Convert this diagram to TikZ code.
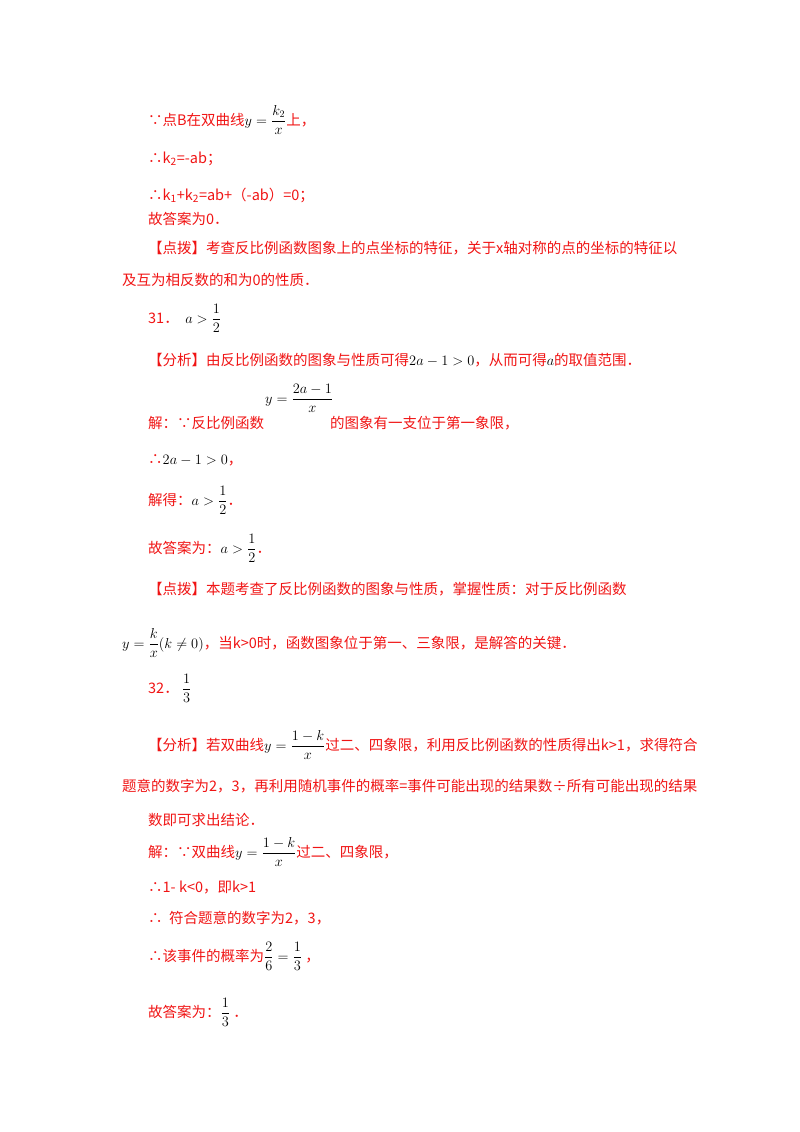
\documentclass[tikz,border=0pt]{standalone}
\usepackage{amsmath}
\usepackage{fontspec}
\setmainfont{Noto Sans CJK SC}
\definecolor{tred}{RGB}{240,20,20}
\newcommand{\mb}[1]{{\color{black}$#1$}}
\begin{document}
\begin{tikzpicture}[x=1pt,y=-1pt,
  t/.style={anchor=base west,inner sep=0pt,text=tred,font=\fontsize{14.5}{17}\selectfont}]
\useasboundingbox (0,0) rectangle (800,1132);
\node[t] (l1) at (148,125) {∵点B在双曲线\mb{y=\dfrac{k_2}{x}}上，};
\node[t] (l2) at (148,163) {∴k\textsubscript{2}=-ab；};
\node[t] (l3) at (148,200) {∴k\textsubscript{1}+k\textsubscript{2}=ab+（-ab）=0；};
\node[t] (l4) at (148,224) {故答案为0．};
\node[t] (l5) at (148,253) {【点拨】考查反比例函数图象上的点坐标的特征，关于x轴对称的点的坐标的特征以};
\node[t] (l6) at (122,285) {及互为相反数的和为0的性质．};
\node[t] (l7) at (148,323) {31．\ \ \mb{a>\dfrac{1}{2}}};
\node[t] (l8) at (148,365) {【分析】由反比例函数的图象与性质可得\mb{2a-1>0}，从而可得\mb{a}的取值范围．};
\node[t,text=black] (l9m) at (265,403) {$y=\dfrac{2a-1}{x}$};
\node[t] (l9a) at (148,428) {解：∵反比例函数};
\node[t] (l9b) at (330,428) {的图象有一支位于第一象限，};
\node[t] (l10) at (148,464) {∴\mb{2a-1>0}，};
\node[t] (l11) at (148,505) {解得：\mb{a>\dfrac{1}{2}}．};
\node[t] (l12) at (148,553) {故答案为：\mb{a>\dfrac{1}{2}}．};
\node[t] (l13) at (148,594) {【点拨】本题考查了反比例函数的图象与性质，掌握性质：对于反比例函数};
\node[t] (l14) at (122,648) {\mb{y=\dfrac{k}{x}(k\neq0)}，当\textit{k}>0时，函数图象位于第一、三象限，是解答的关键．};
\node[t] (l15) at (148,693) {32．\ \mb{\dfrac{1}{3}}};
\node[t] (l16) at (148,750) {【分析】若双曲线\mb{y=\dfrac{1-k}{x}}过二、四象限，利用反比例函数的性质得出\textit{k}>1，求得符合};
\node[t] (l17) at (122,791) {题意的数字为2，3，再利用随机事件的概率=事件可能出现的结果数÷所有可能出现的结果};
\node[t] (l18) at (148,825) {数即可求出结论．};
\node[t] (l19) at (148,857) {解：∵双曲线\mb{y=\dfrac{1-k}{x}}过二、四象限，};
\node[t] (l20) at (148,892) {∴1- \textit{k}<0，即\textit{k}>1};
\node[t] (l21) at (148,923) {∴\ \ 符合题意的数字为2，3，};
\node[t] (l22) at (148,961) {∴该事件的概率为\mb{\dfrac{2}{6}=\dfrac{1}{3}}\ ，};
\node[t] (l23) at (148,1017) {故答案为：\mb{\dfrac{1}{3}}\ ．};
\end{tikzpicture}
\end{document}
